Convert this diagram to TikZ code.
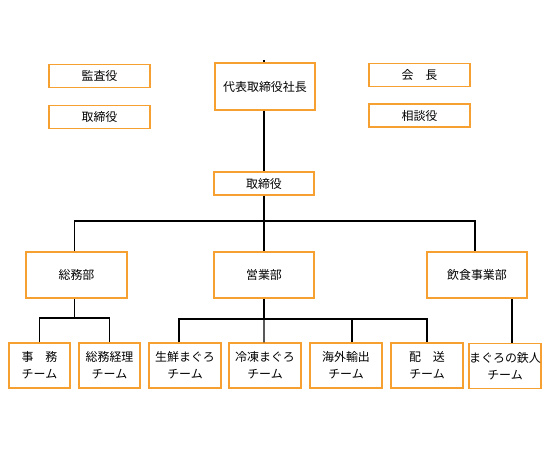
\documentclass[tikz,border=0pt]{standalone}
\usepackage{fontspec}
\newfontfamily\jpfont{Noto Sans CJK JP}
\definecolor{postorange}{RGB}{247,160,50}
\tikzset{
	post/.style={draw=postorange,line width=1.2bp,fill=white,inner sep=0pt,align=center,
		font=\jpfont\fontsize{12}{17}\selectfont},
	wide/.style={post,minimum width=101bp,minimum height=23bp},
	dept/.style={post,minimum width=101bp,minimum height=46bp},
	team/.style={post,minimum width=72bp,minimum height=45bp},
	wire/.style={line width=1.2bp,black}
}
\begin{document}
\begin{tikzpicture}[x=1bp,y=-1bp]
		\useasboundingbox (0,0) rectangle (549,460);
		
		% the board
		\node[post,minimum width=100bp,minimum height=47bp] (shacho) at (265,86.5) {代表取締役社長};
		\node[wide] (kansa) at (99.5,76) {監査役};
		\node[wide] (torileft) at (99.5,117) {取締役};
		\node[wide] (kaicho) at (419.5,75) {会　長};
		\node[wide] (sodan) at (419.5,115.5) {相談役};
		\node[wide,minimum width=100bp] (tori) at (264,183.5) {取締役};
		
		% departments
		\node[dept] (somu) at (76.5,275) {総務部};
		\node[dept,minimum width=100bp] (eigyo) at (264,275) {営業部};
		\node[dept,minimum width=100bp] (inshoku) at (477,275) {飲食事業部};
		
		% teams
		\node[team,minimum width=61bp] (jimu) at (39.5,365.5) {事　務\\チーム};
		\node[team,minimum width=61bp] (keiri) at (109.5,365.5) {総務経理\\チーム};
		\node[team] (sensen) at (185,365.5) {生鮮まぐろ\\チーム};
		\node[team] (reito) at (265,365.5) {冷凍まぐろ\\チーム};
		\node[team] (kaigai) at (346,365.5) {海外輸出\\チーム};
		\node[team] (haiso) at (427,365.5) {配　送\\チーム};
		\node[team] (tetsujin) at (505,366) {まぐろの鉄人\\チーム};
		
		% junctions
		\coordinate (top) at (264,60);
		\coordinate (bus) at (264,221);
		\coordinate (somubus) at (74.5,318);
		\coordinate (eigyobus) at (264,319);
		
		% lines
		\draw[wire] (top) -- (top |- shacho.north);
		\draw[wire] (tori.north |- shacho.south) -- (tori.north);
		\draw[wire] (tori.south) -- (bus);
		\draw[wire] ([xshift=-2]somu.north) |- (bus) -| ([xshift=-2]inshoku.north);
		\draw[wire] (bus) -- (eigyo.north);
		\draw[wire] (somubus |- somu.south) -- (somubus);
		\draw[wire] (jimu.north) |- (somubus) -| (keiri.north);
		\draw[wire] (eigyo.south) -- (eigyobus);
		\draw[wire] ([xshift=-6]sensen.north) |- (eigyobus) -| (haiso.north);
		\draw[wire] (eigyobus) -- ([xshift=-1]reito.north);
		\draw[wire] ([xshift=6]kaigai.north) -- ([xshift=6]kaigai.north |- eigyobus);
		\draw[wire] ([xshift=7]tetsujin.north) -- ([xshift=7]tetsujin.north |- inshoku.south);
	\end{tikzpicture}
\end{document}
